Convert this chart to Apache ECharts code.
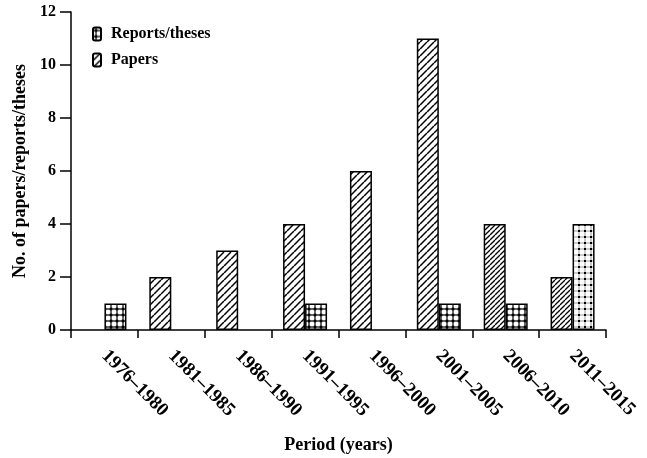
<!DOCTYPE html>
<html>
<head>
<meta charset="utf-8">
<script src="https://cdn.jsdelivr.net/npm/echarts@6/dist/echarts.min.js"></script>
<style>
html,body{margin:0;padding:0;background:#fff;}
#chart{width:647px;height:458px;}
</style>
</head>
<body>
<div id="chart"></div>
<script>
const categories = ['1976–1980','1981–1985','1986–1990','1991–1995','1996–2000','2001–2005','2006–2010','2011–2015'];
const papers = [null, 2, 3, 4, 6, 11, 4, 2];
const reports = [1, null, null, 1, null, 1, 1, 4];
const yTicks = {min: 0, max: 12, interval: 2};
const legendNames = ['Reports/theses', 'Papers'];

const FONT = "'Liberation Serif','Times New Roman',serif";

function hatch(s, lw) {
  const c = document.createElement('canvas');
  c.width = s; c.height = s;
  const g = c.getContext('2d');
  g.fillStyle = '#fff'; g.fillRect(0, 0, s, s);
  g.strokeStyle = '#000'; g.lineWidth = lw;
  for (let k = -1; k <= 1; k++) {
    g.beginPath(); g.moveTo(k * s, s); g.lineTo(k * s + s, 0); g.stroke();
  }
  return {image: c, repeat: 'repeat'};
}
function grid(s, lineCol, lw, dot) {
  const c = document.createElement('canvas');
  c.width = s; c.height = s;
  const g = c.getContext('2d');
  g.fillStyle = '#fff'; g.fillRect(0, 0, s, s);
  const m = s / 2;
  g.fillStyle = lineCol;
  g.fillRect(m - lw / 2, 0, lw, s);
  g.fillRect(0, m - lw / 2, s, lw);
  g.fillStyle = '#000';
  g.fillRect(m - dot / 2, m - dot / 2, dot, dot);
  return {image: c, repeat: 'repeat'};
}

const hatchNormal = hatch(7, 1.5);
const hatchDense = hatch(5, 1.3);
const gridNormal = grid(6, '#000', 1.2, 2.6);
const gridLight = grid(6, '#999', 1, 2);

const paperData = papers.map((v, i) => (i >= 6 && v != null) ? {value: v, itemStyle: {color: hatchDense}} : v);
const reportData = reports.map((v, i) => (i === 7 && v != null) ? {value: v, itemStyle: {color: gridLight}} : v);

const chart = echarts.init(document.getElementById('chart'), null, {renderer: 'canvas'});
chart.setOption({
  backgroundColor: '#fff',
  animation: false,
  textStyle: {fontFamily: FONT},
  grid: {left: 71, right: 41, top: 12, bottom: 128, containLabel: false, outerBoundsMode: 'none'},
  legend: {
    orient: 'vertical', left: 92, top: 26, itemGap: 10, padding: 0,
    itemWidth: 8, itemHeight: 13,
    data: legendNames,
    textStyle: {fontFamily: FONT, fontWeight: 'bold', fontSize: 16, color: '#000', padding: [0, 0, 0, 5]}
  },
  xAxis: {
    type: 'category', data: categories,
    name: 'Period (years)', nameLocation: 'middle', nameGap: 106,
    nameTextStyle: {fontFamily: FONT, fontWeight: 'bold', fontSize: 18, color: '#000'},
    axisLine: {lineStyle: {color: '#000', width: 1.5}},
    axisTick: {show: true, length: 8, lineStyle: {color: '#000', width: 1.5}},
    axisLabel: {rotate: -45, margin: 23, fontFamily: FONT, fontWeight: 'bold', fontSize: 19, color: '#000', interval: 0}
  },
  yAxis: {
    type: 'value', min: yTicks.min, max: yTicks.max, interval: yTicks.interval,
    name: 'No. of papers/reports/theses', nameLocation: 'middle', nameGap: 42,
    nameTextStyle: {fontFamily: FONT, fontWeight: 'bold', fontSize: 18, color: '#000'},
    axisLine: {show: true, lineStyle: {color: '#000', width: 1.5}},
    axisTick: {show: true, length: 11, lineStyle: {color: '#000', width: 1.5}},
    axisLabel: {margin: 15, fontFamily: FONT, fontWeight: 'bold', fontSize: 16, color: '#000'},
    splitLine: {show: false}
  },
  series: [
    {
      name: 'Papers', type: 'bar', data: paperData, barWidth: 22, barGap: '0%',
      itemStyle: {color: hatchNormal, borderColor: '#000', borderWidth: 1.5}
    },
    {
      name: 'Reports/theses', type: 'bar', data: reportData, barWidth: 22, barGap: '0%',
      itemStyle: {color: gridNormal, borderColor: '#000', borderWidth: 1.5}
    }
  ]
});
</script>
</body>
</html>
